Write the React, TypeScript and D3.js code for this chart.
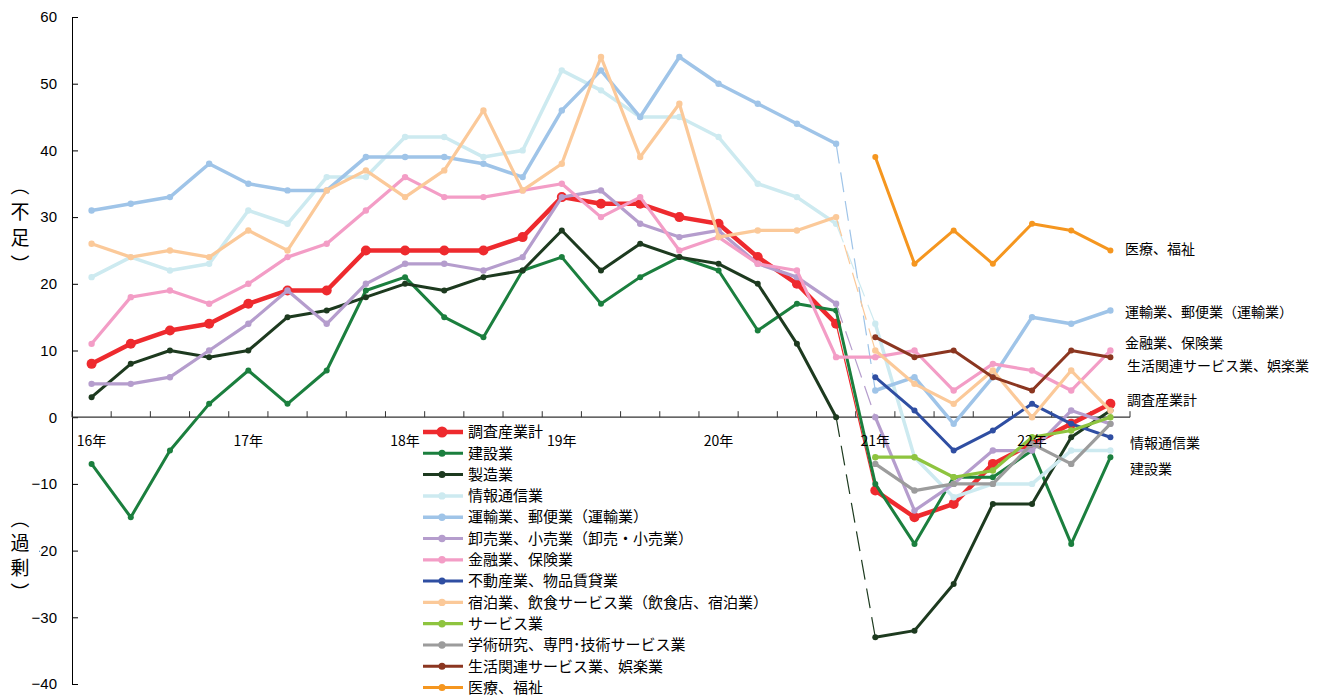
import { useEffect, useRef } from 'react';
import * as d3 from 'd3';

// quarterly survey points, 2016 Q1 .. 2022 Q3
const quarters = [
  '16-1', '16-2', '16-3', '16-4',
  '17-1', '17-2', '17-3', '17-4',
  '18-1', '18-2', '18-3', '18-4',
  '19-1', '19-2', '19-3', '19-4',
  '20-1', '20-2', '20-3', '20-4',
  '21-1', '21-2', '21-3', '21-4',
  '22-1', '22-2', '22-3',
];
const yearTickAt = ['16-1', '17-1', '18-1', '19-1', '20-1', '21-1', '22-1'];
const yearTickLabels = ['16年', '17年', '18年', '19年', '20年', '21年', '22年'];
const yTicks = [60, 50, 40, 30, 20, 10, 0, -10, -20, -30, -40];

const N = null;
const total = [8, 11, 13, 14, 17, 19, 19, 25, 25, 25, 25, 27, 33, 32, 32, 30, 29, 24, 20, 14, -11, -15, -13, -7, -4, -1, 2];
const construction = [-7, -15, -5, 2, 7, 2, 7, 19, 21, 15, 12, 22, 24, 17, 21, 24, 22, 13, 17, 16, -10, -19, -9, -9, -5, -19, -6];
const manufacturing = [3, 8, 10, 9, 10, 15, 16, 18, 20, 19, 21, 22, 28, 22, 26, 24, 23, 20, 11, 0, -33, -32, -25, -13, -13, -3, 1];
const infoComm = [21, 24, 22, 23, 31, 29, 36, 36, 42, 42, 39, 40, 52, 49, 45, 45, 42, 35, 33, 29, 14, -6, -12, -10, -10, -5, -5];
const transport = [31, 32, 33, 38, 35, 34, 34, 39, 39, 39, 38, 36, 46, 52, 45, 54, 50, 47, 44, 41, 4, 6, -1, 6, 15, 14, 16];
const wholesale = [5, 5, 6, 10, 14, 19, 14, 20, 23, 23, 22, 24, 33, 34, 29, 27, 28, 23, 21, 17, 0, -14, -10, -5, -5, 1, -1];
const finance = [11, 18, 19, 17, 20, 24, 26, 31, 36, 33, 33, 34, 35, 30, 33, 25, 27, 23, 22, 9, 9, 10, 4, 8, 7, 4, 10];
const realEstate = [N, N, N, N, N, N, N, N, N, N, N, N, N, N, N, N, N, N, N, N, 6, 1, -5, -2, 2, -1, -3];
const hospitality = [26, 24, 25, 24, 28, 25, 34, 37, 33, 37, 46, 34, 38, 54, 39, 47, 27, 28, 28, 30, 10, 5, 2, 7, 0, 7, 1];
const services = [N, N, N, N, N, N, N, N, N, N, N, N, N, N, N, N, N, N, N, N, -6, -6, -9, -8, -3, -2, 0];
const research = [N, N, N, N, N, N, N, N, N, N, N, N, N, N, N, N, N, N, N, N, -7, -11, -10, -10, -4, -7, -1];
const lifestyle = [N, N, N, N, N, N, N, N, N, N, N, N, N, N, N, N, N, N, N, N, 12, 9, 10, 6, 4, 10, 9];
const medical = [N, N, N, N, N, N, N, N, N, N, N, N, N, N, N, N, N, N, N, N, 39, 23, 28, 23, 29, 28, 25];

// gap: how the 20-4 -> 21-1 break is drawn
const series = [
  { name: '調査産業計', values: total, color: '#ee2a2e', width: 4.5, r: 5, gap: 'thin' },
  { name: '建設業', values: construction, color: '#1b7f3e', width: 3, r: 3, gap: 'solid' },
  { name: '製造業', values: manufacturing, color: '#1d3a1f', width: 3, r: 3, gap: 'dash' },
  { name: '情報通信業', values: infoComm, color: '#cdeaf0', width: 3.5, r: 3.2, gap: 'dash' },
  { name: '運輸業、郵便業（運輸業）', values: transport, color: '#9fc4e8', width: 3.5, r: 3.2, gap: 'dash' },
  { name: '卸売業、小売業（卸売・小売業）', values: wholesale, color: '#b59dcd', width: 3.2, r: 3.2, gap: 'dash' },
  { name: '金融業、保険業', values: finance, color: '#f39dc6', width: 3.2, r: 3.2, gap: 'solid' },
  { name: '不動産業、物品賃貸業', values: realEstate, color: '#2f4ea2', width: 3, r: 3, gap: 'none' },
  { name: '宿泊業、飲食サービス業（飲食店、宿泊業）', values: hospitality, color: '#fbc999', width: 3.2, r: 3.2, gap: 'dash' },
  { name: 'サービス業', values: services, color: '#8ec43f', width: 3.2, r: 3.2, gap: 'none' },
  { name: '学術研究、専門･技術サービス業', values: research, color: '#9c9c9c', width: 3.2, r: 3.2, gap: 'none' },
  { name: '生活関連サービス業、娯楽業', values: lifestyle, color: '#8b3620', width: 3, r: 3, gap: 'none' },
  { name: '医療、福祉', values: medical, color: '#f5961f', width: 3, r: 3, gap: 'none' },
];

const endLabels = [
  { name: '医療、福祉', dx: 0, dy: -1 },
  { name: '運輸業、郵便業（運輸業）', dx: 0, dy: 2 },
  { name: '金融業、保険業', dx: 0, dy: -7 },
  { name: '生活関連サービス業、娯楽業', dx: 2, dy: 9 },
  { name: '調査産業計', dx: 2, dy: -4 },
  { name: '情報通信業', dx: 5, dy: -7 },
  { name: '建設業', dx: 5, dy: 12 },
];

const JP = '"Noto Sans CJK JP", "Noto Sans", sans-serif';
const NUM = '"Liberation Sans", Arial, sans-serif';

const App = () => {
  const ref = useRef<SVGSVGElement>(null);
  const width = 1335;
  const height = 696;

  useEffect(() => {
    const svg = d3.select(ref.current);
    svg.selectAll('*').remove();

    const x = d3.scaleBand().domain(quarters).range([72, 1130]);
    const cx = (q: string) => (x(q) as number) + x.bandwidth() / 2;
    const y = d3.scaleLinear().domain([-40, 60]).range([684, 17]);

    // y axis, ticks pointing into the plot
    const yAxis = d3
      .axisLeft(y)
      .tickValues(yTicks)
      .tickSizeInner(-6)
      .tickSizeOuter(0)
      .tickPadding(15)
      .tickFormat(d3.format('d'));
    const gy = svg.append('g').attr('transform', 'translate(72,0)').call(yAxis);
    gy.select('.domain').attr('stroke', '#000');
    gy.selectAll('text').style('font', `15px ${NUM}`).attr('fill', '#000');

    // x axis on the zero line, ticks between quarters
    const gx = svg.append('g');
    gx.append('line')
      .attr('x1', 72)
      .attr('x2', 1130)
      .attr('y1', y(0))
      .attr('y2', y(0))
      .attr('stroke', '#333')
      .attr('stroke-width', 1.3);
    gx.selectAll('line.tick')
      .data(quarters.concat(['end']))
      .enter()
      .append('line')
      .attr('class', 'tick')
      .attr('x1', (d) => (d === 'end' ? 1130 : (x(d) as number)))
      .attr('x2', (d) => (d === 'end' ? 1130 : (x(d) as number)))
      .attr('y1', y(0))
      .attr('y2', y(0) - 6)
      .attr('stroke', '#333')
      .attr('stroke-width', 1);

    // axis titles (vertical)
    const vTitle = (chars: string[], ys: number[]) => {
      const g = svg.append('g');
      g.append('rect')
        .attr('x', 4)
        .attr('y', ys[0] - 12)
        .attr('width', 35)
        .attr('height', ys[ys.length - 1] - ys[0] + 24)
        .attr('fill', '#fff');
      chars.forEach((c, i) => {
        const t = g
          .append('text')
          .attr('x', 20)
          .attr('y', ys[i])
          .attr('text-anchor', 'middle')
          .attr('dominant-baseline', 'central')
          .style('font', `19px ${JP}`)
          .text(c);
        if (c === '（' || c === '）') t.attr('transform', `rotate(90,20,${ys[i]})`);
      });
    };
    vTitle(['（', '不', '足', '）'], [186, 210, 236, 264]);
    vTitle(['（', '過', '剰', '）'], [519, 541, 566, 592]);

    const line = d3
      .line<[string, number | null]>()
      .defined((d) => d[1] != null)
      .x((d) => cx(d[0]))
      .y((d) => y(d[1] as number));

    const plot = svg.append('g');
    series.forEach((s) => {
      const pts = quarters.map((q, i) => [q, s.values[i]] as [string, number | null]);
      const g = plot.append('g');
      // break between 20-4 and 21-1
      const a = pts[19];
      const b = pts[20];
      if (s.gap !== 'none' && a[1] != null && b[1] != null) {
        const seg = g
          .append('line')
          .attr('x1', cx(a[0]))
          .attr('y1', y(a[1]))
          .attr('x2', cx(b[0]))
          .attr('y2', y(b[1]))
          .attr('stroke', s.color);
        if (s.gap === 'solid') seg.attr('stroke-width', s.width);
        else seg.attr('stroke-width', 1.2);
        if (s.gap === 'dash') seg.attr('stroke-dasharray', '20,9');
      }
      [pts.slice(0, 20), pts.slice(20)].forEach((part) => {
        g.append('path')
          .attr('d', line(part))
          .attr('fill', 'none')
          .attr('stroke', s.color)
          .attr('stroke-width', s.width)
          .attr('stroke-linejoin', 'round');
      });
      g.selectAll('circle')
        .data(pts.filter((d) => d[1] != null))
        .enter()
        .append('circle')
        .attr('cx', (d) => cx(d[0]))
        .attr('cy', (d) => y(d[1] as number))
        .attr('r', s.r)
        .attr('fill', s.color);
    });

    // year labels sit on top of the lines
    svg.append('g')
      .selectAll('text')
      .data(yearTickAt)
      .enter()
      .append('text')
      .attr('x', (d) => cx(d))
      .attr('y', y(0) + 29)
      .attr('text-anchor', 'middle')
      .style('font', `14px ${JP}`)
      .text((d, i) => yearTickLabels[i]);

    // legend
    const lg = svg.append('g').attr('transform', 'translate(423,432)');
    series.forEach((s, i) => {
      const row = lg.append('g').attr('transform', `translate(0,${i * 21.3})`);
      row.append('line')
        .attr('x1', 0)
        .attr('x2', 40)
        .attr('stroke', s.color)
        .attr('stroke-width', s.width);
      row.append('circle').attr('cx', 19).attr('r', s.r + 0.5).attr('fill', s.color);
      row.append('text')
        .attr('x', 45)
        .attr('dy', '0.35em')
        .style('font', `15px ${JP}`)
        .text(s.name);
    });

    // labels at the right end
    endLabels.forEach((l) => {
      const s = series.find((d) => d.name === l.name);
      if (!s) return;
      const last = s.values[s.values.length - 1] as number;
      svg.append('text')
        .attr('x', 1125 + l.dx)
        .attr('y', y(last) + l.dy)
        .attr('dy', '0.35em')
        .style('font', `14px ${JP}`)
        .text(l.name);
    });
  }, []);

  return (
    <svg
      ref={ref}
      width={width}
      height={height}
      style={{ position: 'absolute', left: 0, top: 0, background: '#fff' }}
    />
  );
};

export default App;
